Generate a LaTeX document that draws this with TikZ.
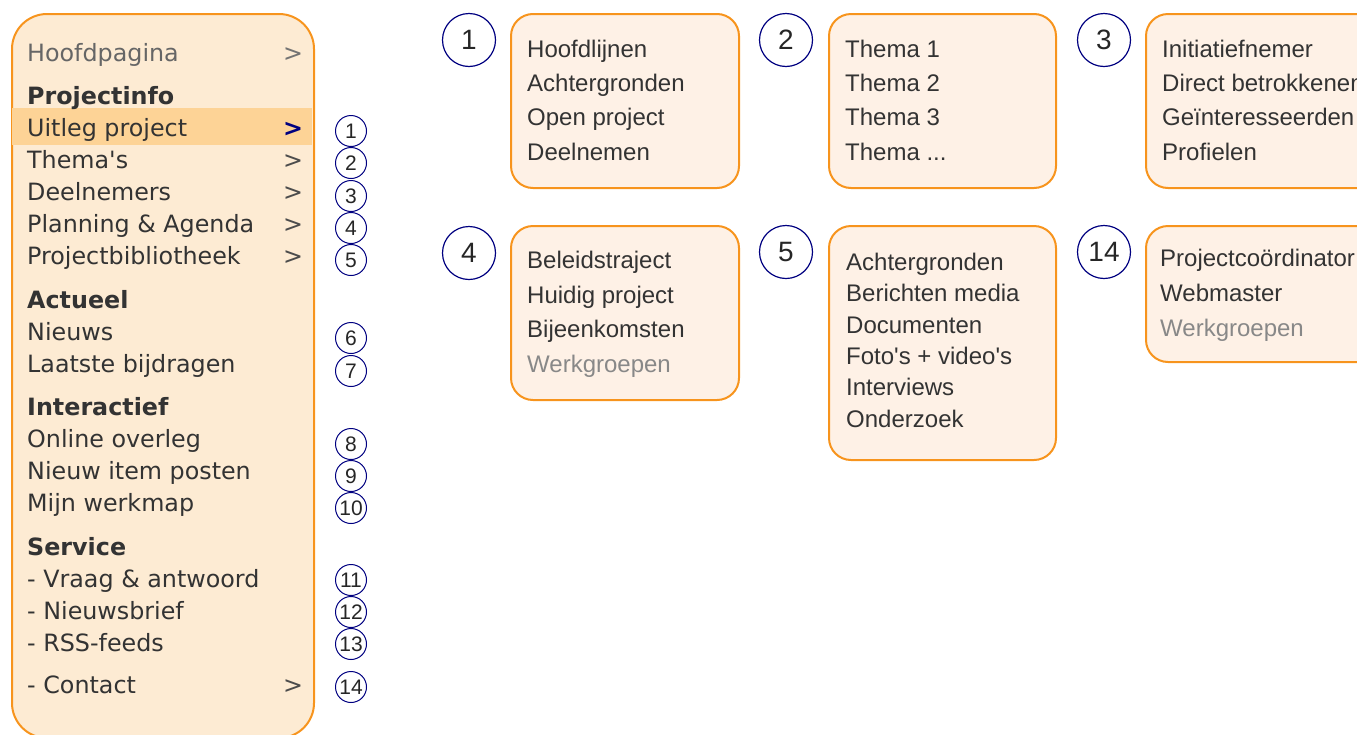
\documentclass[tikz,border=0pt]{standalone}
\usepackage{fontspec}
\newfontfamily\vfont{DejaVu Sans}
\newfontfamily\afont{Liberation Sans}
\definecolor{sidefill}{HTML}{FDEBD3}
\definecolor{hilite}{HTML}{FDD396}
\definecolor{boxfill}{HTML}{FEF1E6}
\definecolor{orangeline}{HTML}{F7941D}
\definecolor{navy}{HTML}{000080}
\definecolor{txt}{HTML}{333333}
\definecolor{dimtxt}{HTML}{888888}
\tikzset{
  sidebar/.style={draw=orangeline, fill=sidefill, line width=2pt, rounded corners=35pt, minimum width=302pt, minimum height=724pt, anchor=north west, inner sep=0pt},
  menubox/.style={draw=orangeline, fill=boxfill, line width=2pt, rounded corners=22pt, anchor=north west, inner sep=0pt},
  item/.style={anchor=base west, inner sep=0pt, text=txt, font=\vfont\fontsize{23.8}{28}\selectfont},
  head/.style={item, font=\vfont\bfseries\fontsize{23.8}{28}\selectfont},
  greyitem/.style={item, text=black!60},
  chev/.style={anchor=base, inner sep=0pt, text=black!70, font=\vfont\fontsize{23.8}{28}\selectfont},
  chevsel/.style={anchor=base, inner sep=0pt, text=navy, font=\vfont\bfseries\fontsize{23.8}{28}\selectfont},
  numsmall/.style={circle, draw=navy, line width=1pt, minimum size=31pt, inner sep=0pt, text=black!85, font=\afont\fontsize{21}{22}\selectfont},
  numbig/.style={circle, draw=navy, line width=1.2pt, minimum size=53pt, inner sep=0pt, text=black!85, font=\afont\fontsize{28}{30}\selectfont},
  boxtext/.style={anchor=base west, inner sep=0pt, text=txt, font=\afont\fontsize{24}{28}\selectfont},
  boxdim/.style={boxtext, text=dimtxt},
}
\begin{document}
\begin{tikzpicture}[x=1pt, y=-1pt]
\useasboundingbox (0,0) rectangle (1357,734);
\begin{scope}
\clip (0,0) rectangle (1357,734);
% sidebar
\node[sidebar] (side) at (11,13) {};
\fill[hilite] (12,108) rectangle (312,145);
\node[greyitem] (hoofd) at (27,61) {Hoofdpagina};
\node[chev, text=black!55] (chev0) at (293,61) {>};
\node[head] (projinfo) at (27,104) {Projectinfo};
\node[item] (uitleg) at (27,136) {Uitleg project};
\node[chevsel] (chev1) at (293,136) {>};
\node[item] (themas) at (27,168) {Thema's};
\node[chev] (chev2) at (293,168) {>};
\node[item] (deeln) at (27,200) {Deelnemers};
\node[chev] (chev3) at (293,200) {>};
\node[item] (plan) at (27,232) {Planning \& Agenda};
\node[chev] (chev4) at (293,232) {>};
\node[item] (bib) at (27,264) {Projectbibliotheek};
\node[chev] (chev5) at (293,264) {>};
\node[head] (actueel) at (27,308) {Actueel};
\node[item] (nieuws) at (27,340) {Nieuws};
\node[item] (laatste) at (27,372) {Laatste bijdragen};
\node[head] (interact) at (27,415) {Interactief};
\node[item] (online) at (27,447) {Online overleg};
\node[item] (nieuwitem) at (27,479) {Nieuw item posten};
\node[item] (werkmap) at (27,511) {Mijn werkmap};
\node[head] (service) at (27,555) {Service};
\node[item] (vraag) at (27,587) {- Vraag \& antwoord};
\node[item] (nbrief) at (27,619) {- Nieuwsbrief};
\node[item] (rss) at (27,651) {- RSS-feeds};
\node[item] (contact) at (27,693) {- Contact};
\node[chev] (chev14) at (293,693) {>};
% small numbered circles
\node[numsmall] (s1) at (351,131) {1};
\node[numsmall] (s2) at (351,163) {2};
\node[numsmall] (s3) at (351,196) {3};
\node[numsmall] (s4) at (351,228) {4};
\node[numsmall] (s5) at (351,260) {5};
\node[numsmall] (s6) at (351,338) {6};
\node[numsmall] (s7) at (351,371) {7};
\node[numsmall] (s8) at (351,444) {8};
\node[numsmall] (s9) at (351,476) {9};
\node[numsmall] (s10) at (351,508) {10};
\node[numsmall] (s11) at (351,580) {11};
\node[numsmall] (s12) at (351,612) {12};
\node[numsmall] (s13) at (351,644) {13};
\node[numsmall] (s14) at (351,687) {14};
% big numbered circles
\node[numbig] (b1) at (469,40) {1};
\node[numbig] (b2) at (786,40) {2};
\node[numbig] (b3) at (1104,40) {3};
\node[numbig] (b4) at (469,253) {4};
\node[numbig] (b5) at (786,252) {5};
\node[numbig] (b14) at (1104,252) {14};
% boxes
\node[menubox, minimum width=228pt, minimum height=174pt] (box1) at (510,13) {};
\node[menubox, minimum width=227pt, minimum height=174pt] (box2) at (828,13) {};
\node[menubox, minimum width=240pt, minimum height=174pt] (box3) at (1145,13) {};
\node[menubox, minimum width=228pt, minimum height=174pt] (box4) at (510,225) {};
\node[menubox, minimum width=227pt, minimum height=234pt] (box5) at (828,225) {};
\node[menubox, minimum width=240pt, minimum height=136pt] (box14) at (1145,225) {};
% box 1
\node[boxtext] (t1a) at (527,57) {Hoofdlijnen};
\node[boxtext] (t1b) at (527,91) {Achtergronden};
\node[boxtext] (t1c) at (527,125) {Open project};
\node[boxtext] (t1d) at (527,160) {Deelnemen};
% box 2
\node[boxtext] (t2a) at (845,57) {Thema 1};
\node[boxtext] (t2b) at (845,91) {Thema 2};
\node[boxtext] (t2c) at (845,125) {Thema 3};
\node[boxtext] (t2d) at (845,160) {Thema ...};
% box 3
\node[boxtext] (t3a) at (1162,57) {Initiatiefnemer};
\node[boxtext] (t3b) at (1162,91) {Direct betrokkenen};
\node[boxtext] (t3c) at (1162,125) {Geïnteresseerden};
\node[boxtext] (t3d) at (1162,160) {Profielen};
% box 4
\node[boxtext] (t4a) at (527,268) {Beleidstraject};
\node[boxtext] (t4b) at (527,303) {Huidig project};
\node[boxtext] (t4c) at (527,337) {Bijeenkomsten};
\node[boxdim] (t4d) at (527,372) {Werkgroepen};
% box 5
\node[boxtext] (t5a) at (846,270) {Achtergronden};
\node[boxtext] (t5b) at (846,301) {Berichten media};
\node[boxtext] (t5c) at (846,333) {Documenten};
\node[boxtext] (t5d) at (846,364) {Foto's + video's};
\node[boxtext] (t5e) at (846,395) {Interviews};
\node[boxtext] (t5f) at (846,427) {Onderzoek};
% box 14
\node[boxtext] (t14a) at (1160,266) {Projectcoördinator};
\node[boxtext] (t14b) at (1160,301) {Webmaster};
\node[boxdim] (t14c) at (1160,336) {Werkgroepen};
\end{scope}
\end{tikzpicture}
\end{document}
